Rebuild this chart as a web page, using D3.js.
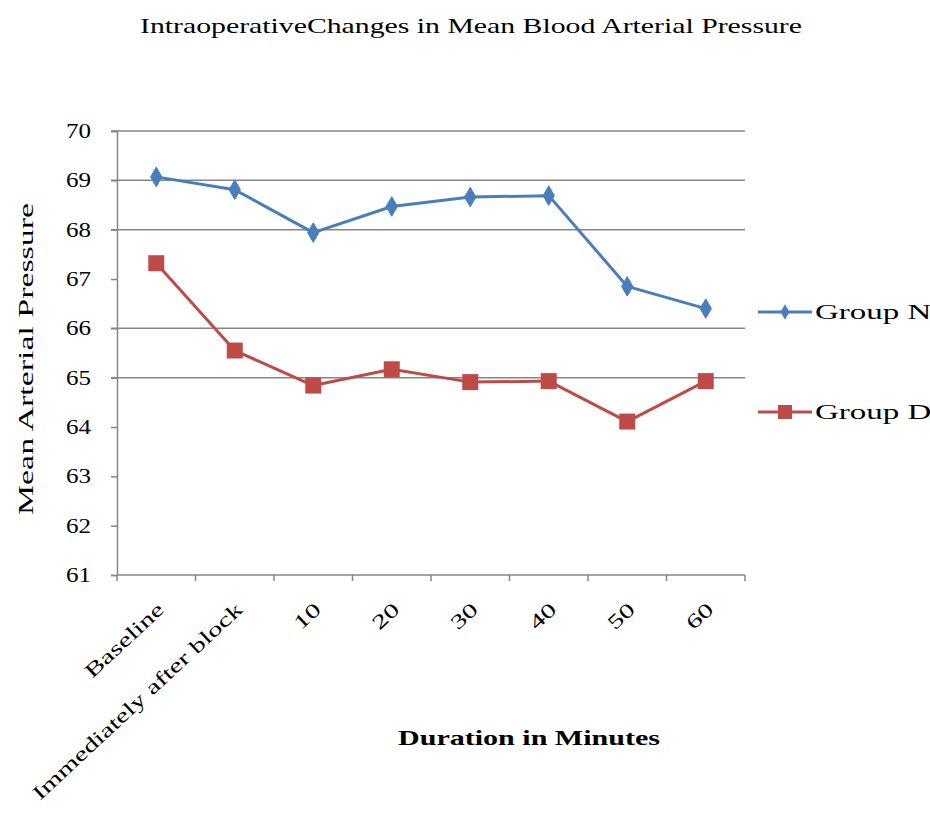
<!DOCTYPE html>
<html>
<head>
<meta charset="utf-8">
<script src="https://cdn.jsdelivr.net/npm/d3@7"></script>
<style>
  html, body { margin: 0; padding: 0; background: #fff; }
  svg { display: block; }
  text { font-family: "Liberation Serif", "DejaVu Serif", serif; fill: #000; }
</style>
</head>
<body>
<svg id="chart" width="930" height="818"></svg>
<script>
// Time points along the x axis
const categories = ["Baseline", "Immediately after block", "10", "20", "30", "40", "50", "60"];
// Mean arterial pressure per group
const groupN = [69.07, 68.81, 67.94, 68.47, 68.66, 68.69, 66.85, 66.40];
const groupD = [67.32, 65.55, 64.84, 65.17, 64.91, 64.93, 64.11, 64.93];
const seriesNames = ["Group N", "Group D"];
// y axis ticks and the ones carrying a gridline
const yTicks = [61, 62, 63, 64, 65, 66, 67, 68, 69, 70];
const gridValues = [65, 66, 68, 69, 70];

const svg = d3.select("#chart");
const plotLeft = 117, plotRight = 745, plotTop = 131, plotBottom = 575;

const x = d3.scaleBand().domain(categories).range([plotLeft, plotRight]);
const y = d3.scaleLinear().domain([61, 70]).range([plotBottom, plotTop]);

// Widen text glyphs by a factor along the text direction
function stretch(sel, k) {
  sel.each(function () {
    const w = this.getComputedTextLength();
    d3.select(this)
      .attr("textLength", w * k)
      .attr("lengthAdjust", "spacingAndGlyphs");
  });
}
function fitTo(sel, len) {
  sel.attr("textLength", len).attr("lengthAdjust", "spacingAndGlyphs");
}

// Title
svg.append("text")
  .attr("x", 471).attr("y", 33)
  .attr("text-anchor", "middle")
  .style("font-size", "22px")
  .text("IntraoperativeChanges in Mean Blood Arterial Pressure")
  .call(fitTo, 662);

// Gridlines
svg.append("g").selectAll("line")
  .data(gridValues).join("line")
  .attr("x1", plotLeft - 6).attr("x2", plotRight)
  .attr("y1", d => y(d)).attr("y2", d => y(d))
  .attr("stroke", "#868686").attr("stroke-width", 1.5);

// Y axis
const yAxis = svg.append("g")
  .attr("transform", `translate(${plotLeft},0)`)
  .call(d3.axisLeft(y).tickValues(yTicks).tickSize(6).tickPadding(20).tickFormat(d3.format("d")));
yAxis.select(".domain").attr("stroke", "#868686").attr("stroke-width", 1.5);
yAxis.selectAll(".tick line").attr("stroke", "#868686").attr("stroke-width", 1.5);
yAxis.selectAll(".tick text")
  .style("font-size", "20px")
  .style("font-family", "'Liberation Serif', serif")
  .attr("fill", "#000")
  .call(stretch, 1.25);

// X axis with ticks at category boundaries
const xAxis = svg.append("g").attr("transform", `translate(0,${plotBottom})`);
xAxis.append("line")
  .attr("x1", plotLeft).attr("x2", plotRight)
  .attr("stroke", "#868686").attr("stroke-width", 1.5);
const boundaries = categories.map(c => x(c)).concat([plotRight]);
xAxis.selectAll("line.tk").data(boundaries).join("line")
  .attr("class", "tk")
  .attr("x1", d => d).attr("x2", d => d)
  .attr("y1", 0).attr("y2", 6)
  .attr("stroke", "#868686").attr("stroke-width", 1.5);
xAxis.selectAll("text").data(categories).join("text")
  .attr("transform", d => `translate(${x(d) + x.bandwidth() / 2 + 9},${36}) rotate(-43)`)
  .attr("text-anchor", "end")
  .style("font-size", "20px")
  .text(d => d)
  .call(stretch, 1.45);

// Axis titles
svg.append("text")
  .attr("transform", `translate(33,359) rotate(-90)`)
  .attr("text-anchor", "middle")
  .style("font-size", "22px")
  .text("Mean Arterial Pressure")
  .call(fitTo, 312);

svg.append("text")
  .attr("x", 529).attr("y", 745)
  .attr("text-anchor", "middle")
  .style("font-size", "22px")
  .style("font-weight", "bold")
  .text("Duration in Minutes")
  .call(fitTo, 262);

// Lines and markers
const blue = "#4a7ebb", red = "#be4b48";
const cx = d => x(d) + x.bandwidth() / 2;
const line = d3.line().x((v, i) => cx(categories[i])).y(v => y(v));

svg.append("path").datum(groupN)
  .attr("d", line).attr("fill", "none")
  .attr("stroke", blue).attr("stroke-width", 3).attr("stroke-linejoin", "round");
svg.append("path").datum(groupD)
  .attr("d", line).attr("fill", "none")
  .attr("stroke", red).attr("stroke-width", 3).attr("stroke-linejoin", "round");

const diamond = d3.symbol().type(d3.symbolDiamond).size(110);
svg.append("g").selectAll("path").data(groupN).join("path")
  .attr("transform", (v, i) => `translate(${cx(categories[i])},${y(v)})`)
  .attr("d", diamond).attr("fill", blue).attr("stroke", blue);

svg.append("g").selectAll("rect").data(groupD).join("rect")
  .attr("x", (v, i) => cx(categories[i]) - 8)
  .attr("y", v => y(v) - 8)
  .attr("width", 16).attr("height", 16)
  .attr("fill", red);

// Legend
const legendDiamond = d3.symbol().type(d3.symbolDiamond).size(70);
const legend = [
  { name: seriesNames[0], color: blue, yy: 312, kind: "diamond" },
  { name: seriesNames[1], color: red, yy: 412, kind: "square" }
];
legend.forEach(l => {
  const g = svg.append("g");
  g.append("line").attr("x1", 758).attr("x2", 812)
    .attr("y1", l.yy).attr("y2", l.yy)
    .attr("stroke", l.color).attr("stroke-width", 3);
  if (l.kind === "diamond") {
    g.append("path").attr("transform", `translate(785,${l.yy})`)
      .attr("d", legendDiamond).attr("fill", l.color);
  } else {
    g.append("rect").attr("x", 778).attr("y", l.yy - 7)
      .attr("width", 14).attr("height", 14).attr("fill", l.color);
  }
  g.append("text").attr("x", 815).attr("y", l.yy + 7)
    .style("font-size", "22px")
    .text(l.name)
    .call(stretch, 1.5);
});
</script>
</body>
</html>
